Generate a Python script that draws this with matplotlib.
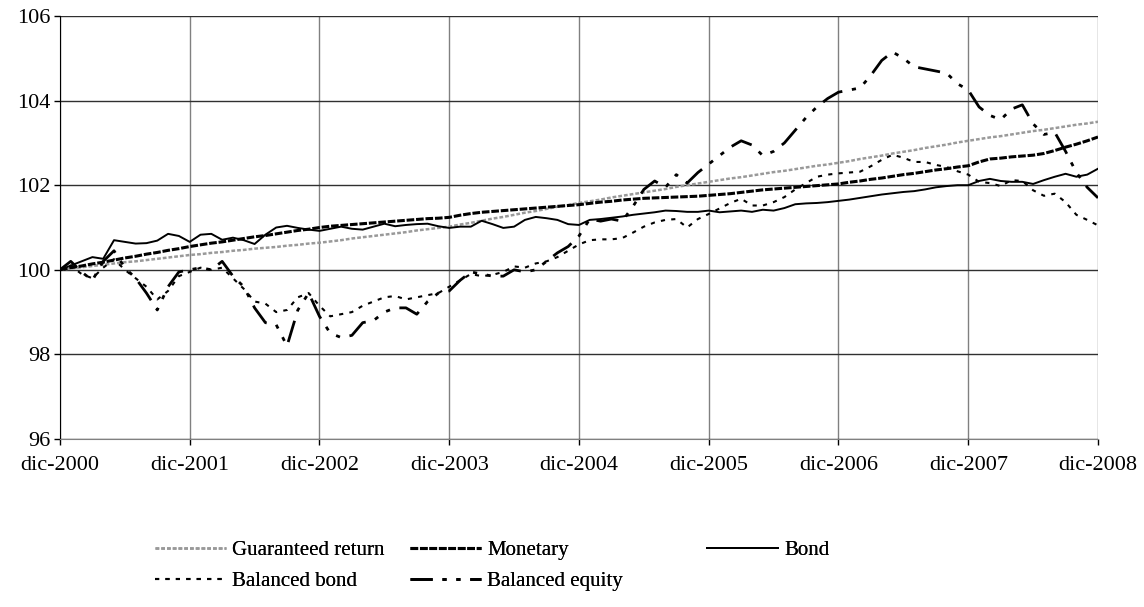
import numpy as np
import matplotlib.pyplot as plt

plt.rcParams['font.family'] = ['Liberation Serif', 'DejaVu Serif']

# -----------------------------
# Data: monthly index values, dic-2000 = 100
# -----------------------------
year_labels = ['dic-2000', 'dic-2001', 'dic-2002', 'dic-2003', 'dic-2004',
               'dic-2005', 'dic-2006', 'dic-2007', 'dic-2008']

guaranteed = [100.00,
              100.03, 100.06, 100.09, 100.12, 100.15, 100.18, 100.20, 100.23, 100.26, 100.29, 100.32, 100.35,
              100.37, 100.40, 100.42, 100.45, 100.47, 100.50, 100.52, 100.54, 100.57, 100.59, 100.62, 100.64,
              100.67, 100.70, 100.74, 100.77, 100.80, 100.83, 100.86, 100.89, 100.93, 100.96, 100.99, 101.02,
              101.07, 101.11, 101.16, 101.21, 101.25, 101.30, 101.35, 101.39, 101.44, 101.49, 101.53, 101.58,
              101.62, 101.66, 101.71, 101.75, 101.79, 101.83, 101.87, 101.91, 101.96, 102.00, 102.04, 102.08,
              102.12, 102.16, 102.19, 102.23, 102.27, 102.31, 102.34, 102.38, 102.42, 102.46, 102.49, 102.53,
              102.57, 102.62, 102.66, 102.70, 102.75, 102.79, 102.83, 102.88, 102.92, 102.96, 103.01, 103.05,
              103.09, 103.13, 103.16, 103.20, 103.24, 103.28, 103.31, 103.35, 103.39, 103.43, 103.46, 103.50]

monetary = [100.00,
            100.05, 100.09, 100.14, 100.18, 100.23, 100.28, 100.32, 100.37, 100.41, 100.46, 100.50, 100.55,
            100.59, 100.63, 100.66, 100.70, 100.74, 100.78, 100.81, 100.85, 100.89, 100.93, 100.96, 101.00,
            101.03, 101.05, 101.07, 101.09, 101.11, 101.13, 101.15, 101.17, 101.19, 101.21, 101.22, 101.24,
            101.29, 101.33, 101.36, 101.38, 101.40, 101.42, 101.44, 101.46, 101.48, 101.50, 101.52, 101.54,
            101.57, 101.60, 101.62, 101.65, 101.67, 101.69, 101.70, 101.71, 101.72, 101.73, 101.74, 101.76,
            101.78, 101.80, 101.83, 101.86, 101.89, 101.91, 101.93, 101.95, 101.97, 101.99, 102.01, 102.03,
            102.07, 102.10, 102.14, 102.17, 102.21, 102.25, 102.28, 102.32, 102.36, 102.39, 102.43, 102.46,
            102.55, 102.62, 102.64, 102.67, 102.69, 102.71, 102.75, 102.82, 102.90, 102.97, 103.05, 103.14]

bond = [100.00,
        100.10, 100.20, 100.30, 100.26, 100.70, 100.66, 100.62, 100.63, 100.69, 100.85, 100.80, 100.66,
        100.83, 100.85, 100.71, 100.76, 100.70, 100.61, 100.83, 101.00, 101.04, 100.99, 100.95, 100.92,
        100.97, 101.02, 100.97, 100.95, 101.02, 101.09, 101.03, 101.06, 101.08, 101.09, 101.03, 100.99,
        101.02, 101.02, 101.16, 101.08, 100.99, 101.02, 101.18, 101.25, 101.22, 101.18, 101.08, 101.06,
        101.18, 101.20, 101.23, 101.26, 101.30, 101.33, 101.36, 101.40, 101.39, 101.37, 101.37, 101.40,
        101.36, 101.38, 101.40, 101.37, 101.42, 101.40, 101.46, 101.55, 101.57, 101.58, 101.60, 101.63,
        101.66, 101.70, 101.74, 101.78, 101.81, 101.84, 101.86, 101.90, 101.95, 101.98, 102.00, 102.00,
        102.10, 102.15, 102.10, 102.08, 102.08, 102.03, 102.12, 102.20, 102.27, 102.20, 102.25, 102.39]

balanced_bond = [100.00,
                 100.10, 99.90, 99.80, 100.05, 100.25, 100.00, 99.80, 99.60, 99.30, 99.50, 99.85, 99.95,
                 100.05, 100.00, 100.05, 99.80, 99.55, 99.25, 99.20, 99.00, 99.05, 99.35, 99.45, 99.15,
                 98.90, 98.95, 99.00, 99.15, 99.25, 99.35, 99.38, 99.30, 99.35, 99.40, 99.45, 99.60,
                 99.75, 99.90, 99.85, 99.88, 99.95, 100.08, 100.05, 100.15, 100.20, 100.30, 100.45, 100.60,
                 100.70, 100.72, 100.72, 100.75, 100.88, 101.02, 101.12, 101.18, 101.20, 101.00, 101.20, 101.32,
                 101.45, 101.58, 101.68, 101.52, 101.52, 101.60, 101.72, 101.90, 102.05, 102.20, 102.25, 102.28,
                 102.30, 102.32, 102.45, 102.60, 102.72, 102.65, 102.55, 102.55, 102.48, 102.43, 102.33, 102.25,
                 102.08, 102.05, 101.98, 102.12, 102.10, 101.88, 101.75, 101.80, 101.60, 101.30, 101.18, 101.05]

balanced_equity = [100.00,
                   100.20, 99.95, 99.75, 100.20, 100.45, 100.05, 99.80, 99.45, 99.05, 99.60, 99.95, 100.00,
                   100.05, 100.00, 100.20, 99.85, 99.60, 99.10, 98.75, 98.70, 98.20, 99.05, 99.45, 98.90,
                   98.50, 98.40, 98.45, 98.75, 98.80, 99.00, 99.10, 99.10, 98.95, 99.25, 99.45, 99.50,
                   99.75, 99.95, 99.90, 99.85, 99.85, 100.00, 99.95, 100.00, 100.20, 100.40, 100.55, 100.80,
                   101.20, 101.15, 101.20, 101.15, 101.50, 101.90, 102.10, 101.95, 102.25, 102.05, 102.30, 102.50,
                   102.70, 102.90, 103.05, 102.95, 102.70, 102.80, 103.00, 103.30, 103.60, 103.85, 104.05, 104.20,
                   104.25, 104.30, 104.60, 104.95, 105.15, 105.00, 104.80, 104.75, 104.70, 104.65, 104.40, 104.25,
                   103.85, 103.65, 103.55, 103.80, 103.90, 103.45, 103.20, 103.25, 102.80, 102.30, 101.95, 101.70]

months = np.arange(len(bond))
year_ticks = months[::12]

# -----------------------------
# Plot
# -----------------------------
fig = plt.figure(figsize=(11.44, 6.07), dpi=100)
ax = fig.add_axes([0.0524, 0.2768, 0.9074, 0.6968])

l_gr, = ax.plot(months, guaranteed, color='#999999', lw=1.8, ls=(0, (1.5, 0.8)),
                label='Guaranteed return')
l_mo, = ax.plot(months, monetary, color='black', lw=2.2, ls=(0, (2.5, 0.6)),
                label='Monetary')
l_bo, = ax.plot(months, bond, color='black', lw=1.4, label='Bond')
l_bb, = ax.plot(months, balanced_bond, color='black', lw=1.5, ls=(0, (2, 3)),
                label='Balanced bond')
l_be, = ax.plot(months, balanced_equity, color='black', lw=2.0,
                ls=(0, (8, 3.5, 1.5, 3.5, 1.5, 3.5)), label='Balanced equity')

ax.set_xlim(0, 96)
ax.set_ylim(96, 106)
ax.set_yticks([96, 98, 100, 102, 104, 106])
ax.set_xticks(year_ticks)
ax.set_xticklabels(year_labels)
ax.tick_params(labelsize=16, length=4, width=1, pad=3, colors='black')
ax.tick_params(axis='x', pad=8)

ax.grid(axis='y', color='#303030', lw=1)
ax.grid(axis='x', color='#808080', lw=1)
ax.set_axisbelow(True)
for s in ['top', 'right']:
    ax.spines[s].set_visible(False)
ax.spines['left'].set_color('black')
ax.spines['bottom'].set_color('#808080')

# legend: three columns placed like the original
columns = [([l_gr, l_bb], 155), ([l_mo, l_be], 410), ([l_bo], 707)]
for hs, xpix in columns:
    leg = fig.legend(handles=hs, labels=[h.get_label() for h in hs],
                     loc='upper left', bbox_to_anchor=(xpix / 1144, 0.110),
                     frameon=False, fontsize=15, handlelength=3.4,
                     handletextpad=0.3, borderpad=0, borderaxespad=0,
                     labelspacing=0.55)
    fig.add_artist(leg)

fig.savefig('out.png', dpi=100)
